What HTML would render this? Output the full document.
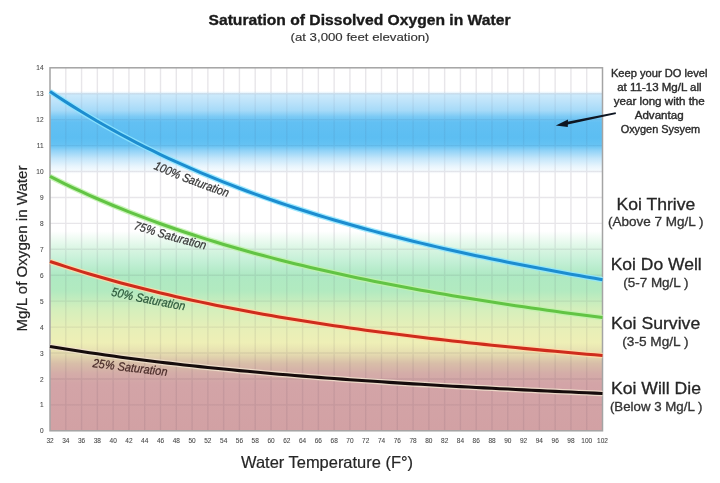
<!DOCTYPE html><html><head><meta charset="utf-8"><style>html,body{margin:0;padding:0;background:#fff;width:720px;height:483px;overflow:hidden}svg{display:block;filter:blur(0.45px)}text{font-family:"Liberation Sans",Arial,sans-serif}</style></head><body>
<svg width="720" height="483" viewBox="0 0 720 483">
<defs><linearGradient id="bg" gradientUnits="userSpaceOnUse" x1="0" y1="67.80" x2="0" y2="430.80">
<stop offset="0.0000" stop-color="#ffffff"/>
<stop offset="0.0643" stop-color="#ffffff"/>
<stop offset="0.0736" stop-color="#cdeafb"/>
<stop offset="0.0929" stop-color="#bde3fa"/>
<stop offset="0.1179" stop-color="#a6daf8"/>
<stop offset="0.1343" stop-color="#7ccaf5"/>
<stop offset="0.1500" stop-color="#62c0f3"/>
<stop offset="0.1929" stop-color="#5cbef2"/>
<stop offset="0.2143" stop-color="#66c3f3"/>
<stop offset="0.2286" stop-color="#92d3f7"/>
<stop offset="0.2500" stop-color="#c4e6fa"/>
<stop offset="0.2714" stop-color="#e8f5fd"/>
<stop offset="0.2929" stop-color="#ffffff"/>
<stop offset="0.4500" stop-color="#ffffff"/>
<stop offset="0.5000" stop-color="#d8f5e2"/>
<stop offset="0.5357" stop-color="#c2efd5"/>
<stop offset="0.5714" stop-color="#aee9c3"/>
<stop offset="0.6143" stop-color="#b2eac0"/>
<stop offset="0.6643" stop-color="#d4efbc"/>
<stop offset="0.7143" stop-color="#e6efb8"/>
<stop offset="0.7571" stop-color="#eeefb6"/>
<stop offset="0.7857" stop-color="#e6deb0"/>
<stop offset="0.8143" stop-color="#d8bea8"/>
<stop offset="0.8429" stop-color="#d4aca8"/>
<stop offset="0.8714" stop-color="#d3a4a7"/>
<stop offset="1.0000" stop-color="#d2a1a4"/>
</linearGradient>
<linearGradient id="gg" gradientUnits="userSpaceOnUse" x1="0" y1="67.80" x2="0" y2="430.80">
<stop offset="0.0000" stop-color="#201030" stop-opacity="0.105"/>
<stop offset="0.0643" stop-color="#201030" stop-opacity="0.105"/>
<stop offset="0.0786" stop-color="#201030" stop-opacity="0.055"/>
<stop offset="0.2571" stop-color="#201030" stop-opacity="0.055"/>
<stop offset="0.2929" stop-color="#201030" stop-opacity="0.105"/>
<stop offset="0.4571" stop-color="#201030" stop-opacity="0.105"/>
<stop offset="0.5000" stop-color="#201030" stop-opacity="0.075"/>
<stop offset="1.0000" stop-color="#201030" stop-opacity="0.075"/>
</linearGradient>
<path id="p100" d="M153.30,168.70 L157.03,170.31 L160.75,171.90 L164.48,173.48 L168.20,175.03 L171.93,176.56 L175.65,178.07 L179.38,179.57 L183.10,181.05 L186.83,182.50 L190.55,183.94 L194.28,185.36 L198.00,186.77 L201.73,188.16 L205.45,189.53 L209.18,190.88 L212.90,192.22 L216.62,193.54 L220.35,194.84 L224.08,196.13 L227.80,197.40"/>
<path id="p75" d="M133.30,228.90 L136.93,230.08 L140.55,231.24 L144.18,232.38 L147.80,233.51 L151.43,234.63 L155.05,235.73 L158.68,236.81 L162.30,237.89 L165.93,238.94 L169.55,239.99 L173.18,241.02 L176.80,242.03 L180.43,243.04 L184.05,244.03 L187.68,245.00 L191.30,245.97 L194.93,246.92 L198.55,247.86 L202.18,248.79 L205.80,249.70"/>
<path id="p50" d="M110.80,295.50 L114.51,296.35 L118.22,297.19 L121.93,298.01 L125.64,298.82 L129.35,299.63 L133.06,300.42 L136.77,301.20 L140.48,301.97 L144.19,302.72 L147.90,303.47 L151.61,304.21 L155.32,304.94 L159.03,305.65 L162.74,306.36 L166.45,307.06 L170.16,307.74 L173.87,308.42 L177.58,309.09 L181.29,309.75 L185.00,310.40"/>
<path id="p25" d="M92.30,366.90 L96.06,367.41 L99.82,367.91 L103.58,368.40 L107.34,368.89 L111.10,369.37 L114.86,369.85 L118.62,370.32 L122.38,370.78 L126.14,371.24 L129.90,371.69 L133.66,372.13 L137.42,372.57 L141.18,373.01 L144.94,373.44 L148.70,373.86 L152.46,374.28 L156.22,374.69 L159.98,375.10 L163.74,375.50 L167.50,375.90"/>
</defs>
<rect x="50.0" y="67.8" width="552.5" height="363.0" fill="url(#bg)"/>
<path d="M65.79,67.8V430.8M81.57,67.8V430.8M97.36,67.8V430.8M113.14,67.8V430.8M128.93,67.8V430.8M144.71,67.8V430.8M160.50,67.8V430.8M176.29,67.8V430.8M192.07,67.8V430.8M207.86,67.8V430.8M223.64,67.8V430.8M239.43,67.8V430.8M255.21,67.8V430.8M271.00,67.8V430.8M286.79,67.8V430.8M302.57,67.8V430.8M318.36,67.8V430.8M334.14,67.8V430.8M349.93,67.8V430.8M365.71,67.8V430.8M381.50,67.8V430.8M397.29,67.8V430.8M413.07,67.8V430.8M428.86,67.8V430.8M444.64,67.8V430.8M460.43,67.8V430.8M476.21,67.8V430.8M492.00,67.8V430.8M507.79,67.8V430.8M523.57,67.8V430.8M539.36,67.8V430.8M555.14,67.8V430.8M570.93,67.8V430.8M586.71,67.8V430.8M50.0,404.87H602.5M50.0,378.94H602.5M50.0,353.01H602.5M50.0,327.09H602.5M50.0,301.16H602.5M50.0,275.23H602.5M50.0,249.30H602.5M50.0,223.37H602.5M50.0,197.44H602.5M50.0,171.51H602.5M50.0,145.59H602.5M50.0,119.66H602.5M50.0,93.73H602.5" stroke="url(#gg)" stroke-width="1.4" fill="none"/>
<rect x="50.0" y="67.8" width="552.5" height="363.0" fill="none" stroke="#a4a4a4" stroke-width="1.5"/>
<path d="M50.00,91.46 L57.89,96.74 L65.79,101.88 L73.68,106.90 L81.57,111.79 L89.46,116.55 L97.36,121.20 L105.25,125.74 L113.14,130.16 L121.04,134.47 L128.93,138.68 L136.82,142.79 L144.71,146.80 L152.61,150.72 L160.50,154.54 L168.39,158.27 L176.29,161.91 L184.18,165.48 L192.07,168.95 L199.96,172.35 L207.86,175.67 L215.75,178.92 L223.64,182.09 L231.54,185.20 L239.43,188.23 L247.32,191.20 L255.21,194.11 L263.11,196.95 L271.00,199.73 L278.89,202.45 L286.79,205.12 L294.68,207.73 L302.57,210.28 L310.46,212.79 L318.36,215.24 L326.25,217.64 L334.14,220.00 L342.04,222.31 L349.93,224.57 L357.82,226.80 L365.71,228.97 L373.61,231.11 L381.50,233.21 L389.39,235.27 L397.29,237.29 L405.18,239.27 L413.07,241.22 L420.96,243.14 L428.86,245.02 L436.75,246.87 L444.64,248.68 L452.54,250.47 L460.43,252.23 L468.32,253.96 L476.21,255.66 L484.11,257.33 L492.00,258.98 L499.89,260.60 L507.79,262.19 L515.68,263.77 L523.57,265.31 L531.46,266.84 L539.36,268.34 L547.25,269.83 L555.14,271.29 L563.04,272.73 L570.93,274.15 L578.82,275.56 L586.71,276.94 L594.61,278.31 L602.50,279.66" stroke="#8fe6ff" stroke-width="5.6" fill="none" stroke-linejoin="round" stroke-opacity="0.85"/>
<path d="M50.00,91.46 L57.89,96.74 L65.79,101.88 L73.68,106.90 L81.57,111.79 L89.46,116.55 L97.36,121.20 L105.25,125.74 L113.14,130.16 L121.04,134.47 L128.93,138.68 L136.82,142.79 L144.71,146.80 L152.61,150.72 L160.50,154.54 L168.39,158.27 L176.29,161.91 L184.18,165.48 L192.07,168.95 L199.96,172.35 L207.86,175.67 L215.75,178.92 L223.64,182.09 L231.54,185.20 L239.43,188.23 L247.32,191.20 L255.21,194.11 L263.11,196.95 L271.00,199.73 L278.89,202.45 L286.79,205.12 L294.68,207.73 L302.57,210.28 L310.46,212.79 L318.36,215.24 L326.25,217.64 L334.14,220.00 L342.04,222.31 L349.93,224.57 L357.82,226.80 L365.71,228.97 L373.61,231.11 L381.50,233.21 L389.39,235.27 L397.29,237.29 L405.18,239.27 L413.07,241.22 L420.96,243.14 L428.86,245.02 L436.75,246.87 L444.64,248.68 L452.54,250.47 L460.43,252.23 L468.32,253.96 L476.21,255.66 L484.11,257.33 L492.00,258.98 L499.89,260.60 L507.79,262.19 L515.68,263.77 L523.57,265.31 L531.46,266.84 L539.36,268.34 L547.25,269.83 L555.14,271.29 L563.04,272.73 L570.93,274.15 L578.82,275.56 L586.71,276.94 L594.61,278.31 L602.50,279.66" stroke="#1c8dd0" stroke-width="3.05" fill="none" stroke-linejoin="round"/>
<path d="M50.00,176.45 L57.89,180.41 L65.79,184.26 L73.68,188.02 L81.57,191.69 L89.46,195.27 L97.36,198.75 L105.25,202.15 L113.14,205.47 L121.04,208.70 L128.93,211.86 L136.82,214.94 L144.71,217.95 L152.61,220.89 L160.50,223.75 L168.39,226.55 L176.29,229.29 L184.18,231.96 L192.07,234.57 L199.96,237.11 L207.86,239.61 L215.75,242.04 L223.64,244.42 L231.54,246.75 L239.43,249.03 L247.32,251.25 L255.21,253.43 L263.11,255.56 L271.00,257.65 L278.89,259.69 L286.79,261.69 L294.68,263.65 L302.57,265.56 L310.46,267.44 L318.36,269.28 L326.25,271.08 L334.14,272.85 L342.04,274.58 L349.93,276.28 L357.82,277.95 L365.71,279.58 L373.61,281.18 L381.50,282.76 L389.39,284.30 L397.29,285.82 L405.18,287.31 L413.07,288.77 L420.96,290.20 L428.86,291.61 L436.75,293.00 L444.64,294.36 L452.54,295.70 L460.43,297.02 L468.32,298.32 L476.21,299.59 L484.11,300.85 L492.00,302.08 L499.89,303.30 L507.79,304.50 L515.68,305.67 L523.57,306.84 L531.46,307.98 L539.36,309.11 L547.25,310.22 L555.14,311.32 L563.04,312.40 L570.93,313.46 L578.82,314.52 L586.71,315.55 L594.61,316.58 L602.50,317.59" stroke="#c0f2ac" stroke-width="5.6" fill="none" stroke-linejoin="round" stroke-opacity="0.85"/>
<path d="M50.00,176.45 L57.89,180.41 L65.79,184.26 L73.68,188.02 L81.57,191.69 L89.46,195.27 L97.36,198.75 L105.25,202.15 L113.14,205.47 L121.04,208.70 L128.93,211.86 L136.82,214.94 L144.71,217.95 L152.61,220.89 L160.50,223.75 L168.39,226.55 L176.29,229.29 L184.18,231.96 L192.07,234.57 L199.96,237.11 L207.86,239.61 L215.75,242.04 L223.64,244.42 L231.54,246.75 L239.43,249.03 L247.32,251.25 L255.21,253.43 L263.11,255.56 L271.00,257.65 L278.89,259.69 L286.79,261.69 L294.68,263.65 L302.57,265.56 L310.46,267.44 L318.36,269.28 L326.25,271.08 L334.14,272.85 L342.04,274.58 L349.93,276.28 L357.82,277.95 L365.71,279.58 L373.61,281.18 L381.50,282.76 L389.39,284.30 L397.29,285.82 L405.18,287.31 L413.07,288.77 L420.96,290.20 L428.86,291.61 L436.75,293.00 L444.64,294.36 L452.54,295.70 L460.43,297.02 L468.32,298.32 L476.21,299.59 L484.11,300.85 L492.00,302.08 L499.89,303.30 L507.79,304.50 L515.68,305.67 L523.57,306.84 L531.46,307.98 L539.36,309.11 L547.25,310.22 L555.14,311.32 L563.04,312.40 L570.93,313.46 L578.82,314.52 L586.71,315.55 L594.61,316.58 L602.50,317.59" stroke="#62c444" stroke-width="3.05" fill="none" stroke-linejoin="round"/>
<path d="M50.00,261.43 L57.89,264.07 L65.79,266.64 L73.68,269.15 L81.57,271.59 L89.46,273.98 L97.36,276.30 L105.25,278.57 L113.14,280.78 L121.04,282.94 L128.93,285.04 L136.82,287.10 L144.71,289.10 L152.61,291.06 L160.50,292.97 L168.39,294.83 L176.29,296.66 L184.18,298.44 L192.07,300.18 L199.96,301.88 L207.86,303.54 L215.75,305.16 L223.64,306.75 L231.54,308.30 L239.43,309.82 L247.32,311.30 L255.21,312.75 L263.11,314.17 L271.00,315.56 L278.89,316.93 L286.79,318.26 L294.68,319.56 L302.57,320.84 L310.46,322.09 L318.36,323.32 L326.25,324.52 L334.14,325.70 L342.04,326.85 L349.93,327.99 L357.82,329.10 L365.71,330.19 L373.61,331.26 L381.50,332.30 L389.39,333.33 L397.29,334.34 L405.18,335.34 L413.07,336.31 L420.96,337.27 L428.86,338.21 L436.75,339.13 L444.64,340.04 L452.54,340.94 L460.43,341.81 L468.32,342.68 L476.21,343.53 L484.11,344.36 L492.00,345.19 L499.89,346.00 L507.79,346.80 L515.68,347.58 L523.57,348.36 L531.46,349.12 L539.36,349.87 L547.25,350.61 L555.14,351.34 L563.04,352.07 L570.93,352.78 L578.82,353.48 L586.71,354.17 L594.61,354.85 L602.50,355.53" stroke="#ffd9a8" stroke-width="5.6" fill="none" stroke-linejoin="round" stroke-opacity="0.85"/>
<path d="M50.00,261.43 L57.89,264.07 L65.79,266.64 L73.68,269.15 L81.57,271.59 L89.46,273.98 L97.36,276.30 L105.25,278.57 L113.14,280.78 L121.04,282.94 L128.93,285.04 L136.82,287.10 L144.71,289.10 L152.61,291.06 L160.50,292.97 L168.39,294.83 L176.29,296.66 L184.18,298.44 L192.07,300.18 L199.96,301.88 L207.86,303.54 L215.75,305.16 L223.64,306.75 L231.54,308.30 L239.43,309.82 L247.32,311.30 L255.21,312.75 L263.11,314.17 L271.00,315.56 L278.89,316.93 L286.79,318.26 L294.68,319.56 L302.57,320.84 L310.46,322.09 L318.36,323.32 L326.25,324.52 L334.14,325.70 L342.04,326.85 L349.93,327.99 L357.82,329.10 L365.71,330.19 L373.61,331.26 L381.50,332.30 L389.39,333.33 L397.29,334.34 L405.18,335.34 L413.07,336.31 L420.96,337.27 L428.86,338.21 L436.75,339.13 L444.64,340.04 L452.54,340.94 L460.43,341.81 L468.32,342.68 L476.21,343.53 L484.11,344.36 L492.00,345.19 L499.89,346.00 L507.79,346.80 L515.68,347.58 L523.57,348.36 L531.46,349.12 L539.36,349.87 L547.25,350.61 L555.14,351.34 L563.04,352.07 L570.93,352.78 L578.82,353.48 L586.71,354.17 L594.61,354.85 L602.50,355.53" stroke="#cf2c1c" stroke-width="3.05" fill="none" stroke-linejoin="round"/>
<path d="M50.00,346.42 L57.89,347.74 L65.79,349.02 L73.68,350.27 L81.57,351.50 L89.46,352.69 L97.36,353.85 L105.25,354.98 L113.14,356.09 L121.04,357.17 L128.93,358.22 L136.82,359.25 L144.71,360.25 L152.61,361.23 L160.50,362.18 L168.39,363.12 L176.29,364.03 L184.18,364.92 L192.07,365.79 L199.96,366.64 L207.86,367.47 L215.75,368.28 L223.64,369.07 L231.54,369.85 L239.43,370.61 L247.32,371.35 L255.21,372.08 L263.11,372.79 L271.00,373.48 L278.89,374.16 L286.79,374.83 L294.68,375.48 L302.57,376.12 L310.46,376.75 L318.36,377.36 L326.25,377.96 L334.14,378.55 L342.04,379.13 L349.93,379.69 L357.82,380.25 L365.71,380.79 L373.61,381.33 L381.50,381.85 L389.39,382.37 L397.29,382.87 L405.18,383.37 L413.07,383.86 L420.96,384.33 L428.86,384.80 L436.75,385.27 L444.64,385.72 L452.54,386.17 L460.43,386.61 L468.32,387.04 L476.21,387.46 L484.11,387.88 L492.00,388.29 L499.89,388.70 L507.79,389.10 L515.68,389.49 L523.57,389.88 L531.46,390.26 L539.36,390.64 L547.25,391.01 L555.14,391.37 L563.04,391.73 L570.93,392.09 L578.82,392.44 L586.71,392.78 L594.61,393.13 L602.50,393.46" stroke="#f0e0cc" stroke-width="5.6" fill="none" stroke-linejoin="round" stroke-opacity="0.85"/>
<path d="M50.00,346.42 L57.89,347.74 L65.79,349.02 L73.68,350.27 L81.57,351.50 L89.46,352.69 L97.36,353.85 L105.25,354.98 L113.14,356.09 L121.04,357.17 L128.93,358.22 L136.82,359.25 L144.71,360.25 L152.61,361.23 L160.50,362.18 L168.39,363.12 L176.29,364.03 L184.18,364.92 L192.07,365.79 L199.96,366.64 L207.86,367.47 L215.75,368.28 L223.64,369.07 L231.54,369.85 L239.43,370.61 L247.32,371.35 L255.21,372.08 L263.11,372.79 L271.00,373.48 L278.89,374.16 L286.79,374.83 L294.68,375.48 L302.57,376.12 L310.46,376.75 L318.36,377.36 L326.25,377.96 L334.14,378.55 L342.04,379.13 L349.93,379.69 L357.82,380.25 L365.71,380.79 L373.61,381.33 L381.50,381.85 L389.39,382.37 L397.29,382.87 L405.18,383.37 L413.07,383.86 L420.96,384.33 L428.86,384.80 L436.75,385.27 L444.64,385.72 L452.54,386.17 L460.43,386.61 L468.32,387.04 L476.21,387.46 L484.11,387.88 L492.00,388.29 L499.89,388.70 L507.79,389.10 L515.68,389.49 L523.57,389.88 L531.46,390.26 L539.36,390.64 L547.25,391.01 L555.14,391.37 L563.04,391.73 L570.93,392.09 L578.82,392.44 L586.71,392.78 L594.61,393.13 L602.50,393.46" stroke="#160c0c" stroke-width="3.05" fill="none" stroke-linejoin="round"/>
<text font-size="12.2" font-style="italic" fill="#353535" stroke="#353535" stroke-width="0.25"><textPath href="#p100" textLength="79.4" lengthAdjust="spacingAndGlyphs">100% Saturation</textPath></text>
<text font-size="12.2" font-style="italic" fill="#3a3a3a" stroke="#3a3a3a" stroke-width="0.25"><textPath href="#p75" textLength="74.9" lengthAdjust="spacingAndGlyphs">75% Saturation</textPath></text>
<text font-size="12.2" font-style="italic" fill="#2d5a3c" stroke="#2d5a3c" stroke-width="0.25"><textPath href="#p50" textLength="75.2" lengthAdjust="spacingAndGlyphs">50% Saturation</textPath></text>
<text font-size="12.2" font-style="italic" fill="#4a2c2a" stroke="#4a2c2a" stroke-width="0.25"><textPath href="#p25" textLength="75.2" lengthAdjust="spacingAndGlyphs">25% Saturation</textPath></text>
<text x="43.5" y="433.40" font-size="6.5" fill="#484848" stroke="#484848" stroke-width="0.08" text-anchor="end">0</text>
<text x="43.5" y="407.47" font-size="6.5" fill="#484848" stroke="#484848" stroke-width="0.08" text-anchor="end">1</text>
<text x="43.5" y="381.54" font-size="6.5" fill="#484848" stroke="#484848" stroke-width="0.08" text-anchor="end">2</text>
<text x="43.5" y="355.61" font-size="6.5" fill="#484848" stroke="#484848" stroke-width="0.08" text-anchor="end">3</text>
<text x="43.5" y="329.69" font-size="6.5" fill="#484848" stroke="#484848" stroke-width="0.08" text-anchor="end">4</text>
<text x="43.5" y="303.76" font-size="6.5" fill="#484848" stroke="#484848" stroke-width="0.08" text-anchor="end">5</text>
<text x="43.5" y="277.83" font-size="6.5" fill="#484848" stroke="#484848" stroke-width="0.08" text-anchor="end">6</text>
<text x="43.5" y="251.90" font-size="6.5" fill="#484848" stroke="#484848" stroke-width="0.08" text-anchor="end">7</text>
<text x="43.5" y="225.97" font-size="6.5" fill="#484848" stroke="#484848" stroke-width="0.08" text-anchor="end">8</text>
<text x="43.5" y="200.04" font-size="6.5" fill="#484848" stroke="#484848" stroke-width="0.08" text-anchor="end">9</text>
<text x="43.5" y="174.11" font-size="6.5" fill="#484848" stroke="#484848" stroke-width="0.08" text-anchor="end">10</text>
<text x="43.5" y="148.19" font-size="6.5" fill="#484848" stroke="#484848" stroke-width="0.08" text-anchor="end">11</text>
<text x="43.5" y="122.26" font-size="6.5" fill="#484848" stroke="#484848" stroke-width="0.08" text-anchor="end">12</text>
<text x="43.5" y="96.33" font-size="6.5" fill="#484848" stroke="#484848" stroke-width="0.08" text-anchor="end">13</text>
<text x="43.5" y="70.40" font-size="6.5" fill="#484848" stroke="#484848" stroke-width="0.08" text-anchor="end">14</text>
<text x="50.00" y="442.9" font-size="6.5" fill="#484848" stroke="#484848" stroke-width="0.08" text-anchor="middle">32</text>
<text x="65.79" y="442.9" font-size="6.5" fill="#484848" stroke="#484848" stroke-width="0.08" text-anchor="middle">34</text>
<text x="81.57" y="442.9" font-size="6.5" fill="#484848" stroke="#484848" stroke-width="0.08" text-anchor="middle">36</text>
<text x="97.36" y="442.9" font-size="6.5" fill="#484848" stroke="#484848" stroke-width="0.08" text-anchor="middle">38</text>
<text x="113.14" y="442.9" font-size="6.5" fill="#484848" stroke="#484848" stroke-width="0.08" text-anchor="middle">40</text>
<text x="128.93" y="442.9" font-size="6.5" fill="#484848" stroke="#484848" stroke-width="0.08" text-anchor="middle">42</text>
<text x="144.71" y="442.9" font-size="6.5" fill="#484848" stroke="#484848" stroke-width="0.08" text-anchor="middle">44</text>
<text x="160.50" y="442.9" font-size="6.5" fill="#484848" stroke="#484848" stroke-width="0.08" text-anchor="middle">46</text>
<text x="176.29" y="442.9" font-size="6.5" fill="#484848" stroke="#484848" stroke-width="0.08" text-anchor="middle">48</text>
<text x="192.07" y="442.9" font-size="6.5" fill="#484848" stroke="#484848" stroke-width="0.08" text-anchor="middle">50</text>
<text x="207.86" y="442.9" font-size="6.5" fill="#484848" stroke="#484848" stroke-width="0.08" text-anchor="middle">52</text>
<text x="223.64" y="442.9" font-size="6.5" fill="#484848" stroke="#484848" stroke-width="0.08" text-anchor="middle">54</text>
<text x="239.43" y="442.9" font-size="6.5" fill="#484848" stroke="#484848" stroke-width="0.08" text-anchor="middle">56</text>
<text x="255.21" y="442.9" font-size="6.5" fill="#484848" stroke="#484848" stroke-width="0.08" text-anchor="middle">58</text>
<text x="271.00" y="442.9" font-size="6.5" fill="#484848" stroke="#484848" stroke-width="0.08" text-anchor="middle">60</text>
<text x="286.79" y="442.9" font-size="6.5" fill="#484848" stroke="#484848" stroke-width="0.08" text-anchor="middle">62</text>
<text x="302.57" y="442.9" font-size="6.5" fill="#484848" stroke="#484848" stroke-width="0.08" text-anchor="middle">64</text>
<text x="318.36" y="442.9" font-size="6.5" fill="#484848" stroke="#484848" stroke-width="0.08" text-anchor="middle">66</text>
<text x="334.14" y="442.9" font-size="6.5" fill="#484848" stroke="#484848" stroke-width="0.08" text-anchor="middle">68</text>
<text x="349.93" y="442.9" font-size="6.5" fill="#484848" stroke="#484848" stroke-width="0.08" text-anchor="middle">70</text>
<text x="365.71" y="442.9" font-size="6.5" fill="#484848" stroke="#484848" stroke-width="0.08" text-anchor="middle">72</text>
<text x="381.50" y="442.9" font-size="6.5" fill="#484848" stroke="#484848" stroke-width="0.08" text-anchor="middle">74</text>
<text x="397.29" y="442.9" font-size="6.5" fill="#484848" stroke="#484848" stroke-width="0.08" text-anchor="middle">76</text>
<text x="413.07" y="442.9" font-size="6.5" fill="#484848" stroke="#484848" stroke-width="0.08" text-anchor="middle">78</text>
<text x="428.86" y="442.9" font-size="6.5" fill="#484848" stroke="#484848" stroke-width="0.08" text-anchor="middle">80</text>
<text x="444.64" y="442.9" font-size="6.5" fill="#484848" stroke="#484848" stroke-width="0.08" text-anchor="middle">82</text>
<text x="460.43" y="442.9" font-size="6.5" fill="#484848" stroke="#484848" stroke-width="0.08" text-anchor="middle">84</text>
<text x="476.21" y="442.9" font-size="6.5" fill="#484848" stroke="#484848" stroke-width="0.08" text-anchor="middle">86</text>
<text x="492.00" y="442.9" font-size="6.5" fill="#484848" stroke="#484848" stroke-width="0.08" text-anchor="middle">88</text>
<text x="507.79" y="442.9" font-size="6.5" fill="#484848" stroke="#484848" stroke-width="0.08" text-anchor="middle">90</text>
<text x="523.57" y="442.9" font-size="6.5" fill="#484848" stroke="#484848" stroke-width="0.08" text-anchor="middle">92</text>
<text x="539.36" y="442.9" font-size="6.5" fill="#484848" stroke="#484848" stroke-width="0.08" text-anchor="middle">94</text>
<text x="555.14" y="442.9" font-size="6.5" fill="#484848" stroke="#484848" stroke-width="0.08" text-anchor="middle">96</text>
<text x="570.93" y="442.9" font-size="6.5" fill="#484848" stroke="#484848" stroke-width="0.08" text-anchor="middle">98</text>
<text x="586.71" y="442.9" font-size="6.5" fill="#484848" stroke="#484848" stroke-width="0.08" text-anchor="middle">100</text>
<text x="602.50" y="442.9" font-size="6.5" fill="#484848" stroke="#484848" stroke-width="0.08" text-anchor="middle">102</text>
<text x="359.5" y="25" font-size="15.3" font-weight="bold" fill="#1a1a1a" stroke="#1a1a1a" stroke-width="0.35" text-anchor="middle" textLength="302" lengthAdjust="spacingAndGlyphs">Saturation of Dissolved Oxygen in Water</text>
<text x="360" y="41" font-size="11" fill="#333" stroke="#333" stroke-width="0.15" text-anchor="middle" textLength="139" lengthAdjust="spacingAndGlyphs">(at 3,000 feet elevation)</text>
<text x="327" y="468" font-size="16.5" fill="#262626" stroke="#262626" stroke-width="0.2" text-anchor="middle" textLength="172" lengthAdjust="spacingAndGlyphs">Water Temperature (F°)</text>
<text transform="translate(27.4,248.5) rotate(-90)" x="0" y="0" font-size="14.5" fill="#262626" stroke="#262626" stroke-width="0.2" text-anchor="middle" textLength="166" lengthAdjust="spacingAndGlyphs">Mg/L of Oxygen in Water</text>
<text x="659.2" y="76.7" font-size="10" fill="#2a2a2a" stroke="#2a2a2a" stroke-width="0.35" text-anchor="middle" textLength="96.5" lengthAdjust="spacingAndGlyphs">Keep your DO level</text>
<text x="659.4" y="90.8" font-size="10" fill="#2a2a2a" stroke="#2a2a2a" stroke-width="0.35" text-anchor="middle" textLength="84.5" lengthAdjust="spacingAndGlyphs">at 11-13 Mg/L all</text>
<text x="659.3" y="105" font-size="10" fill="#2a2a2a" stroke="#2a2a2a" stroke-width="0.35" text-anchor="middle" textLength="91" lengthAdjust="spacingAndGlyphs">year long with the</text>
<text x="659.2" y="119" font-size="10" fill="#2a2a2a" stroke="#2a2a2a" stroke-width="0.35" text-anchor="middle" textLength="49" lengthAdjust="spacingAndGlyphs">Advantag</text>
<text x="660.4" y="133.3" font-size="10" fill="#2a2a2a" stroke="#2a2a2a" stroke-width="0.35" text-anchor="middle" textLength="79.5" lengthAdjust="spacingAndGlyphs">Oxygen Sysyem</text>
<text x="655.9" y="209.7" font-size="16.5" fill="#262626" stroke="#262626" stroke-width="0.3" text-anchor="middle" textLength="78.7" lengthAdjust="spacingAndGlyphs">Koi Thrive</text>
<text x="655.8" y="225.8" font-size="12" fill="#333" stroke="#333" stroke-width="0.3" text-anchor="middle" textLength="95.5" lengthAdjust="spacingAndGlyphs">(Above 7 Mg/L )</text>
<text x="656.2" y="270.3" font-size="16.5" fill="#262626" stroke="#262626" stroke-width="0.3" text-anchor="middle" textLength="91.1" lengthAdjust="spacingAndGlyphs">Koi Do Well</text>
<text x="655.9" y="286.7" font-size="12" fill="#333" stroke="#333" stroke-width="0.3" text-anchor="middle" textLength="65.3" lengthAdjust="spacingAndGlyphs">(5-7 Mg/L )</text>
<text x="655.6" y="329.2" font-size="16.5" fill="#262626" stroke="#262626" stroke-width="0.3" text-anchor="middle" textLength="89.2" lengthAdjust="spacingAndGlyphs">Koi Survive</text>
<text x="655.4" y="345.8" font-size="12" fill="#333" stroke="#333" stroke-width="0.3" text-anchor="middle" textLength="66.2" lengthAdjust="spacingAndGlyphs">(3-5 Mg/L )</text>
<text x="656.0" y="393.8" font-size="16.5" fill="#262626" stroke="#262626" stroke-width="0.3" text-anchor="middle" textLength="90.0" lengthAdjust="spacingAndGlyphs">Koi Will Die</text>
<text x="656.2" y="410.8" font-size="12" fill="#333" stroke="#333" stroke-width="0.3" text-anchor="middle" textLength="92.5" lengthAdjust="spacingAndGlyphs">(Below 3 Mg/L )</text>
<path d="M615.6,112.2 L566,121.9 L566.5,124.7 L616,114.1 Z" fill="#0e1622"/>
<path d="M555.8,125.4 L568,119.6 L567.8,127 Z" fill="#0e1622"/>
</svg></body></html>
